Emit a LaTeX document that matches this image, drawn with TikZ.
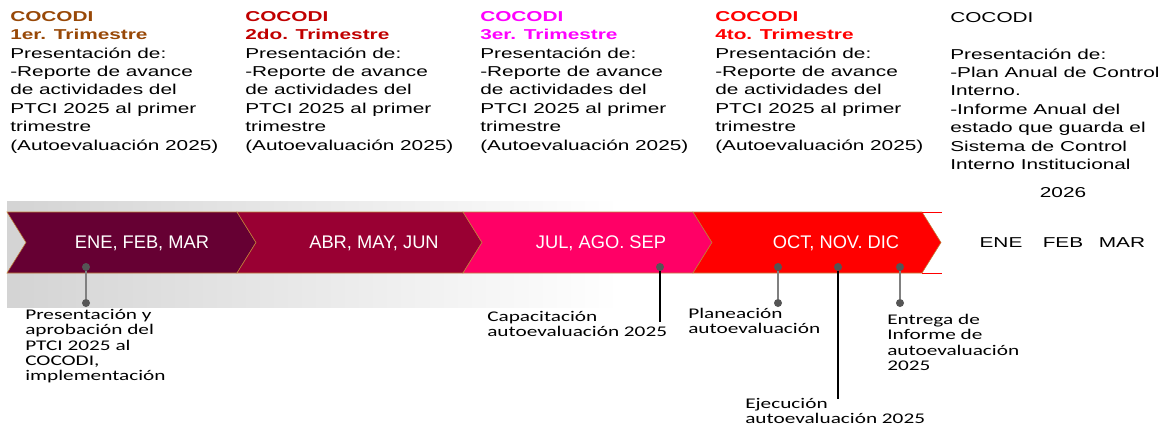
\documentclass[tikz,border=0pt]{standalone}
\usepackage{fontspec}
\setmainfont{Liberation Sans}
\newfontfamily\topfont[FakeStretch=1.45]{Liberation Sans}
\newfontfamily\labfont[FakeStretch=1.44]{Carlito}
\usetikzlibrary{
		calc,
		positioning
	}
\definecolor{cafe}{HTML}{984807}
\definecolor{vino}{HTML}{C00000}
\definecolor{rosa}{HTML}{FF00FF}
\definecolor{rojo}{HTML}{FF0000}
\definecolor{segA}{HTML}{660033}
\definecolor{segB}{HTML}{990033}
\definecolor{segC}{HTML}{FF0066}
\definecolor{segD}{HTML}{FF0000}
\definecolor{borde}{HTML}{C0803A}
\definecolor{grisdot}{HTML}{555555}
\tikzset{
		>=stealth,
		trim/.style={anchor=north west, inner sep=0pt, align=left,
			font=\topfont\fontsize{10.2}{13.1}\selectfont},
		mes/.style={text=white, inner sep=0pt, font=\fontsize{13}{15}\selectfont},
		hito/.style={anchor=north west, inner sep=0pt, align=left,
			font=\labfont\fontsize{10.5}{10.9}\selectfont},
		punto/.style={circle, fill=grisdot, inner sep=0pt, minimum size=0.2cm},
		gris/.style={draw=gray, line width=1.3pt},
		negro/.style={draw=black, line width=1pt}
	}
% one chevron of the band: left end, right end, fill
\newcommand{\flecha}[3]{%
	\filldraw[fill=#3, draw=borde, line width=0.4pt]
		(#1,212) -- (#2,212) -- (#2+19,242.5) -- (#2,273) -- (#1,273) -- (#1+19,242.5) -- cycle;}

\begin{document}
\begin{tikzpicture}[x=0.025cm, y=-0.025cm]
          \useasboundingbox (0,0) rectangle (1166,428);

          % band
          \shade[left color=gray!34, right color=white] (7,201) rectangle (620,307);
          \flecha{7}{237}{segA}
          \flecha{237}{463}{segB}
          \flecha{463}{693}{segC}
          \flecha{693}{922}{segD}
          \draw[rojo, line width=0.6pt] (922,212) -- (942,212);
          \draw[rojo, line width=0.6pt] (922,273) -- (942,273);

          \node[mes] (m1) at (142,243) {ENE, FEB, MAR};
          \node[mes] (m2) at (374,243) {ABR, MAY, JUN};
          \node[mes] (m3) at (601,243) {JUL, AGO. SEP};
          \node[mes] (m4) at (836,243) {OCT, NOV. DIC};

          % quarters
          \node[trim] (t1) at (10,11) {\textbf{\color{cafe}COCODI}\\\textbf{\color{cafe}1er. Trimestre}\\Presentación de:\\-Reporte de avance\\de actividades del\\PTCI 2025 al primer\\trimestre\\(Autoevaluación 2025)};
          \node[trim] (t2) at (245,11) {\textbf{\color{vino}COCODI}\\\textbf{\color{vino}2do. Trimestre}\\Presentación de:\\-Reporte de avance\\de actividades del\\PTCI 2025 al primer\\trimestre\\(Autoevaluación 2025)};
          \node[trim] (t3) at (480,11) {\textbf{\color{rosa}COCODI}\\\textbf{\color{rosa}3er. Trimestre}\\Presentación de:\\-Reporte de avance\\de actividades del\\PTCI 2025 al primer\\trimestre\\(Autoevaluación 2025)};
          \node[trim] (t4) at (715,11) {\textbf{\color{rojo}COCODI}\\\textbf{\color{rojo}4to. Trimestre}\\Presentación de:\\-Reporte de avance\\de actividades del\\PTCI 2025 al primer\\trimestre\\(Autoevaluación 2025)};
          \node[trim] (t5) at (950,12) {COCODI\\[13pt]Presentación de:\\-Plan Anual de Control\\Interno.\\-Informe Anual del\\estado que guarda el\\Sistema de Control\\Interno Institucional};

          \node[trim, anchor=center] (y26) at (1063,193) {2026};
          \node[trim, anchor=center] (ene) at (1001,243) {ENE};
          \node[trim, anchor=center] (feb) at (1063,243) {FEB};
          \node[trim, anchor=center] (mar) at (1122,243) {MAR};

          % milestones
          \node[punto] (p1) at (86,267) {};
          \node[punto] (q1) at (86,303) {};
          \node[punto] (p2) at (660,267) {};
          \coordinate (c2) at (660,322);
          \node[punto] (p3) at (778,267) {};
          \node[punto] (q3) at (778,303) {};
          \node[punto] (p4) at (838,267) {};
          \coordinate (c4) at (838,399);
          \node[punto] (p5) at (900,267) {};
          \node[punto] (q5) at (900,303) {};

          \draw[gris] (p1) -- (q1);
          \draw[negro] (p2) -- (c2);
          \draw[gris] (p3) -- (q3);
          \draw[negro] (p4) -- (c4);
          \draw[gris] (p5) -- (q5);

          \node[hito] (h1) at (25,309) {Presentación y\\aprobación del\\PTCI 2025 al\\COCODI,\\implementación};
          \node[hito] (h2) at (487,311) {Capacitación\\autoevaluación 2025};
          \node[hito] (h3) at (688,308) {Planeación\\autoevaluación};
          \node[hito] (h4) at (887,314) {Entrega de\\Informe de\\autoevaluación\\2025};
          \node[hito] (h5) at (745,398) {Ejecución\\autoevaluación 2025};

          \end{tikzpicture}
\end{document}
